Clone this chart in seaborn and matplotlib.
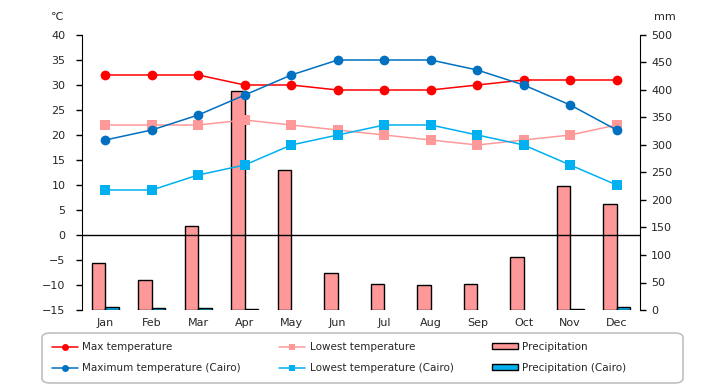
import pandas as pd
import seaborn as sns
import matplotlib.pyplot as plt
from matplotlib.lines import Line2D
from matplotlib.patches import Patch, FancyBboxPatch

months = ["Jan", "Feb", "Mar", "Apr", "May", "Jun", "Jul", "Aug", "Sep", "Oct", "Nov", "Dec"]
max_temp = [32, 32, 32, 30, 30, 29, 29, 29, 30, 31, 31, 31]
low_temp = [22, 22, 22, 23, 22, 21, 20, 19, 18, 19, 20, 22]
precip = [86, 54, 152, 399, 254, 67, 47, 45, 48, 96, 225, 193]
cairo_max = [19, 21, 24, 28, 32, 35, 35, 35, 33, 30, 26, 21]
cairo_low = [9, 9, 12, 14, 18, 20, 22, 22, 20, 18, 14, 10]
cairo_precip = [5, 4, 4, 1, 0, 0, 0, 0, 0, 0, 1, 5]

c_red = "#FF0000"
c_pink = "#FF9999"
c_blue = "#0070C0"
c_cyan = "#00B0F0"

sns.set_style("white")
plt.rcParams["font.family"] = ["DejaVu Sans"]
plt.rcParams["font.size"] = 8

fig = plt.figure(figsize=(7.2, 3.85), dpi=100)
ax = fig.add_axes([82 / 720, 75 / 385, 558 / 720, 275 / 385])
ax2 = ax.twinx()

# bars behind on the precipitation axis, lines on top
ax.set_zorder(2)
ax.patch.set_visible(False)
ax2.set_zorder(1)
ax2.set_facecolor("#FFFFCC")

bars = pd.DataFrame({
    "month": months * 2,
    "mm": precip + cairo_precip,
    "series": ["Precipitation"] * 12 + ["Precipitation (Cairo)"] * 12,
})
sns.barplot(data=bars, x="month", y="mm", hue="series", ax=ax2,
            palette=[c_pink, c_cyan], width=0.58, edgecolor="black",
            linewidth=1, legend=False, saturation=1)
# empty months show no bar at all
for p in ax2.patches:
    if p.get_height() == 0:
        p.set_visible(False)

x = list(range(12))
lines = [
    (max_temp, c_red, "o", 7),
    (low_temp, c_pink, "s", 6.5),
    (cairo_max, c_blue, "o", 7),
    (cairo_low, c_cyan, "s", 6.5),
]
for vals, col, mk, ms in lines:
    sns.lineplot(x=x, y=vals, ax=ax, color=col, marker=mk, markersize=ms,
                 markeredgewidth=0, linewidth=1.1)

ax.axhline(0, color="black", linewidth=1)

ax.set_ylim(-15, 40)
ax.set_yticks(range(-15, 41, 5))
ax2.set_ylim(0, 500)
ax2.set_yticks(range(0, 501, 50))
ax.set_xlim(-0.5, 11.5)
ax2.set_xlim(-0.5, 11.5)
ax.set_xticks(x)
ax.set_xticklabels(months)
ax2.set_xlabel("")
ax2.set_ylabel("")
ax.set_xlabel("")
ax.set_ylabel("")

for a in (ax, ax2):
    a.spines["top"].set_visible(False)
    a.spines["bottom"].set_visible(False)
    a.spines["left"].set_color("black")
    a.spines["right"].set_color("black")
ax.spines["right"].set_visible(False)
ax2.spines["left"].set_visible(False)
ax.tick_params(axis="y", direction="out", length=4, width=1, color="black", pad=8)
ax.tick_params(axis="x", length=0, pad=6)
ax2.tick_params(axis="y", direction="out", length=4, width=1, color="black", pad=4)
ax2.tick_params(axis="x", length=0, labelbottom=False)

fig.text(57 / 720, 1 - 17 / 385, "\u2103", ha="center", va="center", fontsize=8)
fig.text(665 / 720, 1 - 17 / 385, "mm", ha="center", va="center", fontsize=8)

# legend frame drawn separately, wider than its content
frame = FancyBboxPatch((42 / 720, 2 / 385), 641 / 720, 50 / 385,
                       boxstyle="round,pad=0,rounding_size=0.012",
                       transform=fig.transFigure, facecolor="white",
                       edgecolor="#C0C0C0", linewidth=1.2)
fig.patches.append(frame)

handles = [
    Line2D([], [], color=c_red, marker="o", markersize=5, markeredgewidth=0, lw=1.1),
    Line2D([], [], color=c_blue, marker="o", markersize=5, markeredgewidth=0, lw=1.1),
    Line2D([], [], color=c_pink, marker="s", markersize=5, markeredgewidth=0, lw=1.1),
    Line2D([], [], color=c_cyan, marker="s", markersize=5, markeredgewidth=0, lw=1.1),
    Patch(facecolor=c_pink, edgecolor="black"),
    Patch(facecolor=c_cyan, edgecolor="black"),
]
labels = ["Max temperature", "Maximum temperature (Cairo)",
          "Lowest temperature", "Lowest temperature (Cairo)",
          "Precipitation", "Precipitation (Cairo)"]
fig.legend(handles, labels, ncol=3, loc="upper left",
           bbox_to_anchor=(52 / 720, 1 - 342 / 385),
           frameon=False, fontsize=7.5, borderpad=0, borderaxespad=0,
           handlelength=2.5, handleheight=0.45, handletextpad=0.4,
           labelspacing=1.05, columnspacing=3.7)

fig.savefig("out.png", dpi=100)
